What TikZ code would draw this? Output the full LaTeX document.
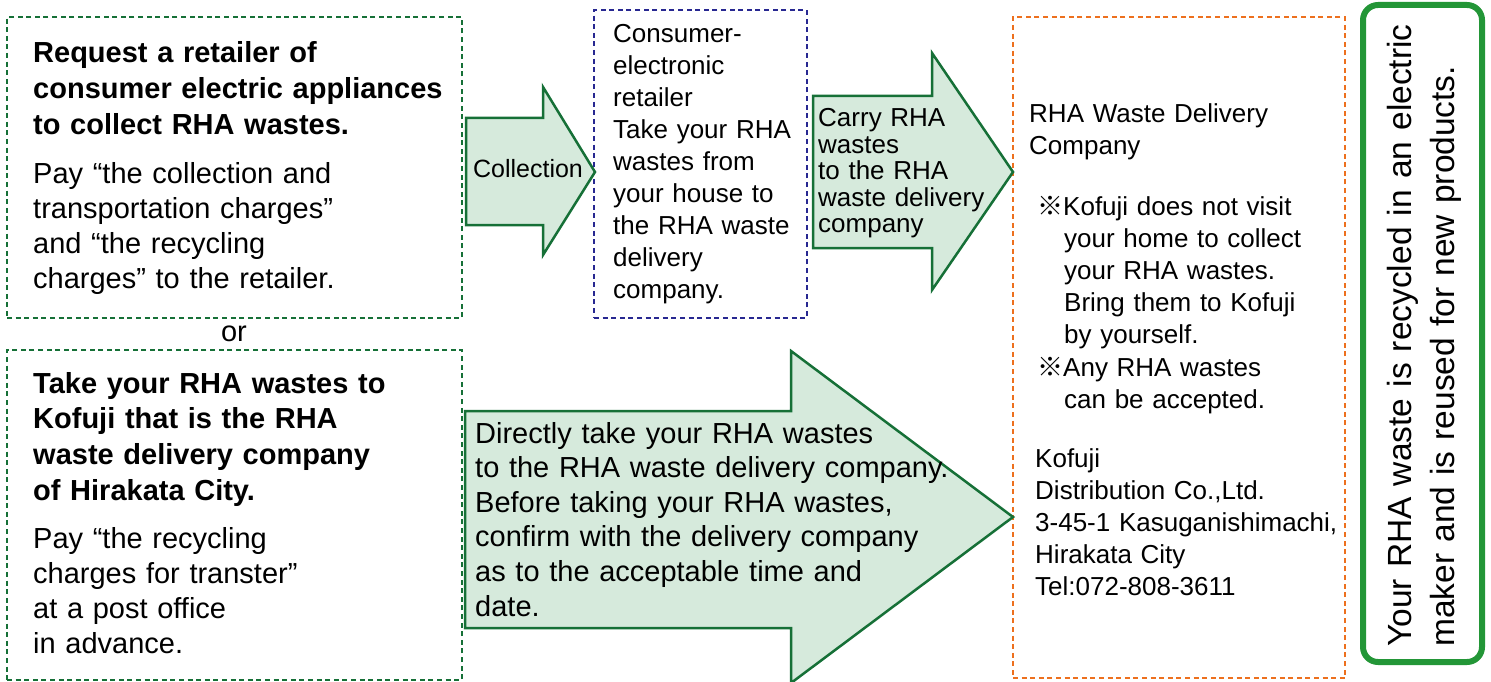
\documentclass[tikz,border=0pt]{standalone}
\usepackage{fontspec}
\setmainfont{Liberation Sans}
\newfontfamily\cjk{Noto Sans CJK JP}
\definecolor{dgreen}{RGB}{22,112,55}
\definecolor{afill}{RGB}{214,234,220}
\definecolor{dblue}{RGB}{40,40,145}
\definecolor{dorange}{RGB}{237,112,30}
\definecolor{bgreen}{RGB}{35,150,55}
\tikzset{
  dotbox/.style={draw, line width=2.6pt, dash pattern=on 5pt off 3.6pt, rectangle, inner sep=0pt},
  blockarrow/.style={draw=dgreen, fill=afill, line width=2.5pt, line join=miter},
  txt/.style={inner sep=0pt, anchor=base west, align=left, text width=#1},
  txt/.default=500pt,
}
\newcommand{\fs}[2]{\fontsize{#1pt}{#2pt}\selectfont}
\begin{document}
\begin{tikzpicture}[x=1pt,y=-1pt]
\useasboundingbox (0,0) rectangle (1491,682);
% boxes
\node[dotbox, draw=dgreen, minimum width=455pt, minimum height=301pt] (req) at (234.5,167.5) {};
\node[dotbox, draw=dgreen, minimum width=455pt, minimum height=330pt] (take) at (234.5,515) {};
\node[dotbox, draw=dblue, minimum width=213pt, minimum height=308pt] (retail) at (700.5,164) {};
\node[dotbox, draw=dorange, minimum width=332pt, minimum height=661pt] (kofuji) at (1179,347.5) {};
\node[draw=bgreen, line width=6pt, rounded corners=15pt, rectangle, minimum width=119pt, minimum height=657pt] (recyc) at (1422.5,333.5) {};
% block arrows
\draw[blockarrow] (466,118) -- (543,118) -- (543,87) -- (595,172) -- (543,255) -- (543,225) -- (466,225) -- cycle;
\draw[blockarrow] (813,96) -- (932,96) -- (932,53) -- (1013,172) -- (932,290) -- (932,248) -- (813,248) -- cycle;
\draw[blockarrow] (465,411) -- (791,411) -- (791,351) -- (1013,517) -- (791,683) -- (791,628) -- (465,628) -- cycle;
% texts
\node[txt, font=\bfseries\fs{29}{36}] (reqh) at (33,63) {Request a retailer of\\consumer electric appliances\\to collect RHA wastes.};
\node[txt, font=\fs{29}{35}] (reqt) at (33,183) {Pay “the collection and\\transportation charges”\\and “the recycling\\charges” to the retailer.};
\node[inner sep=0pt, anchor=base, font=\fs{29}{35}] (or) at (234,341) {or};
\node[txt, font=\bfseries\fs{29}{35.7}] (takeh) at (33,393) {Take your RHA wastes to\\Kofuji that is the RHA\\waste delivery company\\of Hirakata City.};
\node[txt, font=\fs{29}{35}] (taket) at (33,548) {Pay “the recycling\\charges for transter”\\at a post office\\in advance.};
\node[inner sep=0pt, anchor=base, font=\fs{25}{30}] (coll) at (528,177) {Collection};
\node[txt, font=\fs{26}{31.9}] (retailt) at (613,43) {Consumer-\\electronic\\retailer\\Take your RHA\\wastes from\\your house to\\the RHA waste\\delivery\\company.};
\node[txt, font=\fs{26}{26.5}] (carry) at (818,127) {Carry RHA\\wastes\\to the RHA\\waste delivery\\company};
\node[txt, font=\fs{29}{34.6}] (direct) at (475,443) {Directly take your RHA wastes\\to the RHA waste delivery company.\\Before taking your RHA wastes,\\confirm with the delivery company\\as to the acceptable time and\\date.};
\node[txt, font=\fs{26}{32}] (kofh) at (1029,123) {RHA Waste Delivery\\Company};
\node[txt, font=\fs{26}{32.2}] (kofn) at (1037,215) {{\cjk ※}Kofuji does not visit\\\hspace*{27pt}your home to collect\\\hspace*{27pt}your RHA wastes.\\\hspace*{27pt}Bring them to Kofuji\\\hspace*{27pt}by yourself.\\{\cjk ※}Any RHA wastes\\\hspace*{27pt}can be accepted.};
\node[txt, font=\fs{26}{32}] (kofa) at (1035,467) {Kofuji\\Distribution Co.,Ltd.\\3-45-1 Kasuganishimachi,\\Hirakata City\\Tel:072-808-3611};
\node[txt=700pt, font=\fs{33.5}{43}, rotate=90] (recyct) at (1411,647) {Your RHA waste is recycled in an electric\\maker and is reused for new products.};
\end{tikzpicture}
\end{document}
